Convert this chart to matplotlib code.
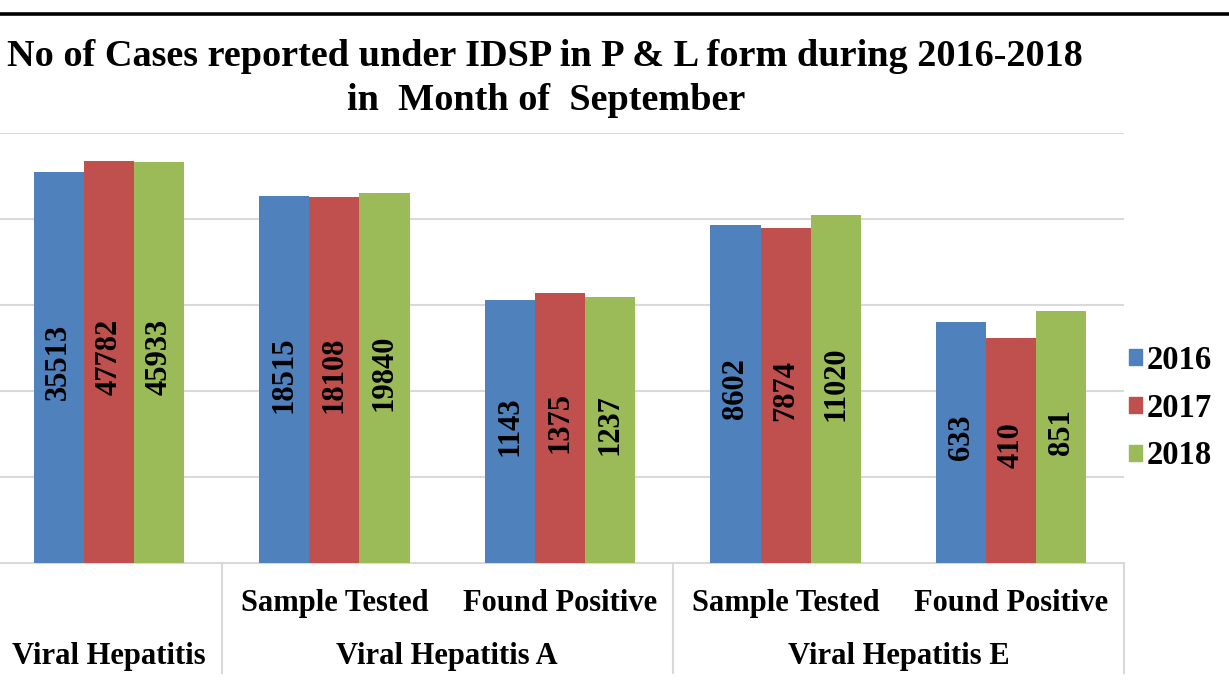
import numpy as np
import matplotlib.pyplot as plt
from matplotlib.lines import Line2D
from matplotlib.patches import Patch

# data
categorias = ["", "Sample Tested", "Found Positive", "Sample Tested", "Found Positive"]
grupos = ["Viral Hepatitis", "Viral Hepatitis A", "Viral Hepatitis E"]
grupo_pos = [0, 1.5, 3.5]
anos = ["2016", "2017", "2018"]
casos_2016 = [35513, 18515, 1143, 8602, 633]
casos_2017 = [47782, 18108, 1375, 7874, 410]
casos_2018 = [45933, 19840, 1237, 11020, 851]
cores = ["#4F81BD", "#C0504D", "#9BBB59"]

fonte = "Liberation Serif"

fig = plt.figure(figsize=(12.29, 6.82), dpi=100)
ax = fig.add_axes([-4 / 1229, 119 / 682, 1128 / 1229, 430 / 682])

x = np.arange(len(categorias))
largura = 0.222
series = [casos_2016, casos_2017, casos_2018]
for i, (vals, cor) in enumerate(zip(series, cores)):
    pos = x + (i - 1) * largura
    ax.bar(pos, vals, width=largura, color=cor, zorder=3, label=anos[i])
    for p, v in zip(pos, vals):
        # rotulo no meio da barra (escala log)
        ax.text(p, np.sqrt(v) * 1.15, str(v), rotation=90, ha="center", va="center",
                fontsize=22, fontweight="bold", family=fonte, color="black", zorder=4)

ax.set_yscale("log")
ax.set_ylim(1, 1e5)
ax.set_xlim(-0.5, 4.5)
ax.set_yticks([10, 100, 1000, 10000, 100000])
ax.yaxis.set_minor_locator(plt.NullLocator())
ax.set_yticklabels([])
ax.tick_params(axis="both", length=0)
ax.set_xticks([])
ax.grid(axis="y", color="#D9D9D9", linewidth=1.5, zorder=0)
for lado in ["top", "left", "right"]:
    ax.spines[lado].set_visible(False)
ax.spines["bottom"].set_color("#D9D9D9")
ax.spines["bottom"].set_linewidth(1.5)

# category labels (two levels)
for xi, nome in zip(x, categorias):
    ax.text(xi, -0.095, nome, transform=ax.get_xaxis_transform(), ha="center", va="center",
            fontsize=22, fontweight="bold", family=fonte)
for xi, nome in zip(grupo_pos, grupos):
    ax.text(xi, -0.217, nome, transform=ax.get_xaxis_transform(), ha="center", va="center",
            fontsize=22, fontweight="bold", family=fonte)
for xs in [-0.5, 0.5, 2.5, 4.5]:
    ax.plot([xs, xs], [0, -0.255], transform=ax.get_xaxis_transform(), color="#D9D9D9",
            linewidth=1.5, clip_on=False)

# legend
handles = [Patch(color=c, label=a) for c, a in zip(cores, anos)]
fig.legend(handles=handles, loc="center left", bbox_to_anchor=(1129 / 1229, 1 - 408 / 682),
           frameon=False, handlelength=0.4, handleheight=0.4, handletextpad=0.15,
           labelspacing=0.52, borderpad=0, borderaxespad=0,
           prop={"family": fonte, "weight": "bold", "size": 23.5})

# title
fig.text(545 / 1229, 1 - 56 / 682, "No of Cases reported under IDSP in P & L form during 2016-2018",
         ha="center", va="center", fontsize=27.5, fontweight="bold", family=fonte)
fig.text(546 / 1229, 1 - 101 / 682, "in  Month of  September",
         ha="center", va="center", fontsize=27.5, fontweight="bold", family=fonte)

# black line at the top
fig.add_artist(Line2D([0, 1], [1 - 13.5 / 682, 1 - 13.5 / 682], color="black", linewidth=2.6,
                      transform=fig.transFigure))

fig.savefig("out.png", dpi=100)
